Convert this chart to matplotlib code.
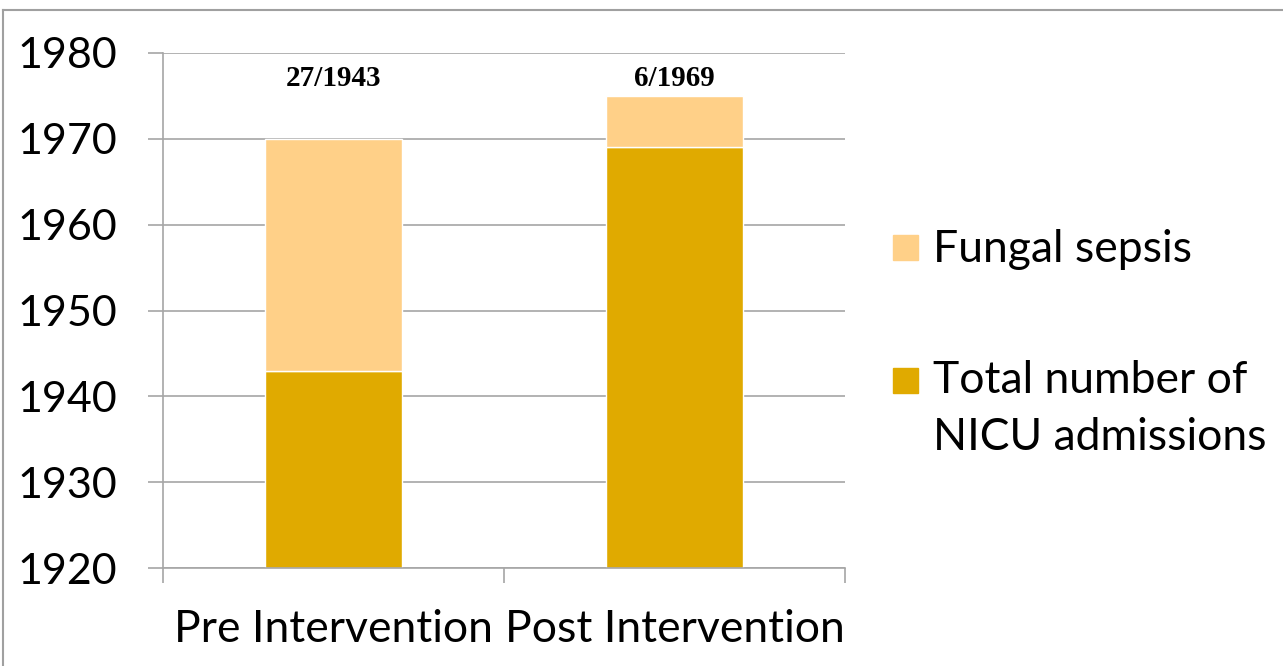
import matplotlib
matplotlib.use("Agg")
import matplotlib.pyplot as plt
from matplotlib.patches import Rectangle
from matplotlib.lines import Line2D

# Data
categories = ["Pre Intervention", "Post Intervention"]
total_admissions = [1943, 1969]
fungal_sepsis = [27, 6]
series_names = ["Fungal sepsis", "Total number of\nNICU admissions"]
y_ticks = [1920, 1930, 1940, 1950, 1960, 1970, 1980]

c_total = "#E0AA00"
c_fungal = "#FFD088"
grid_c = "#A6A6A6"

W, H = 1283, 666
fig = plt.figure(figsize=(W / 100, H / 100), dpi=100)
fig.patch.set_facecolor("white")

# frame lines along the top and left of the chart area
fig.add_artist(Line2D([3 / W, 1.0], [1 - 10 / H, 1 - 10 / H], transform=fig.transFigure,
                      color="#A0A0A0", linewidth=1.5))
fig.add_artist(Line2D([3 / W, 3 / W], [0, 1 - 10 / H], transform=fig.transFigure,
                      color="#A0A0A0", linewidth=1.5))

ax = fig.add_axes([163 / W, 1 - 568 / H, (845 - 163) / W, (568 - 53) / H])
font = "Lato"

x = range(len(categories))
ax.bar(x, [t - y_ticks[0] for t in total_admissions], bottom=y_ticks[0], width=0.4,
       color=c_total, edgecolor="white", linewidth=1)
ax.bar(x, fungal_sepsis, bottom=total_admissions, width=0.4,
       color=c_fungal, edgecolor="white", linewidth=1)

ax.set_xlim(-0.5, len(categories) - 0.5)
ax.set_ylim(y_ticks[0], y_ticks[-1])
ax.set_yticks(y_ticks)
ax.set_yticklabels([str(v) for v in y_ticks], fontsize=31, family=font)
ax.tick_params(axis="y", length=11, color=grid_c, width=1.2, pad=22)
ax.yaxis.grid(True, color=grid_c, linewidth=1.2)
ax.set_axisbelow(True)

ax.set_xticks([-0.5, 0.5, 1.5])
ax.set_xticklabels([])
ax.tick_params(axis="x", length=11, color=grid_c, width=1.2)
for i, name in enumerate(categories):
    ax.text(i, -0.12, name, transform=ax.get_xaxis_transform(), ha="center", va="center",
            fontsize=32, family=font)

for side in ("top", "right"):
    ax.spines[side].set_visible(False)
for side in ("left", "bottom"):
    ax.spines[side].set_color(grid_c)
    ax.spines[side].set_linewidth(1.2)

# ratio labels above each bar
for i, (f, t) in enumerate(zip(fungal_sepsis, total_admissions)):
    ax.text(i, 1977.0, f"{f}/{t}", ha="center", va="center", fontsize=21,
            fontweight="bold", family="Liberation Serif")

# legend
leg_colors = [c_fungal, c_total]
leg_top = [235, 368]
leg_base = [262, 393]
for name, col, top, base in zip(series_names, leg_colors, leg_top, leg_base):
    fig.add_artist(Rectangle((893 / W, 1 - (top + 25) / H), 25 / W, 25 / H,
                             transform=fig.transFigure, color=col))
    lines = name.split("\n")
    for k, line in enumerate(lines):
        fig.text(933 / W, 1 - (base + 57 * k) / H, line, ha="left", va="baseline",
                 fontsize=32, family=font)

fig.savefig("out.png", dpi=100)
